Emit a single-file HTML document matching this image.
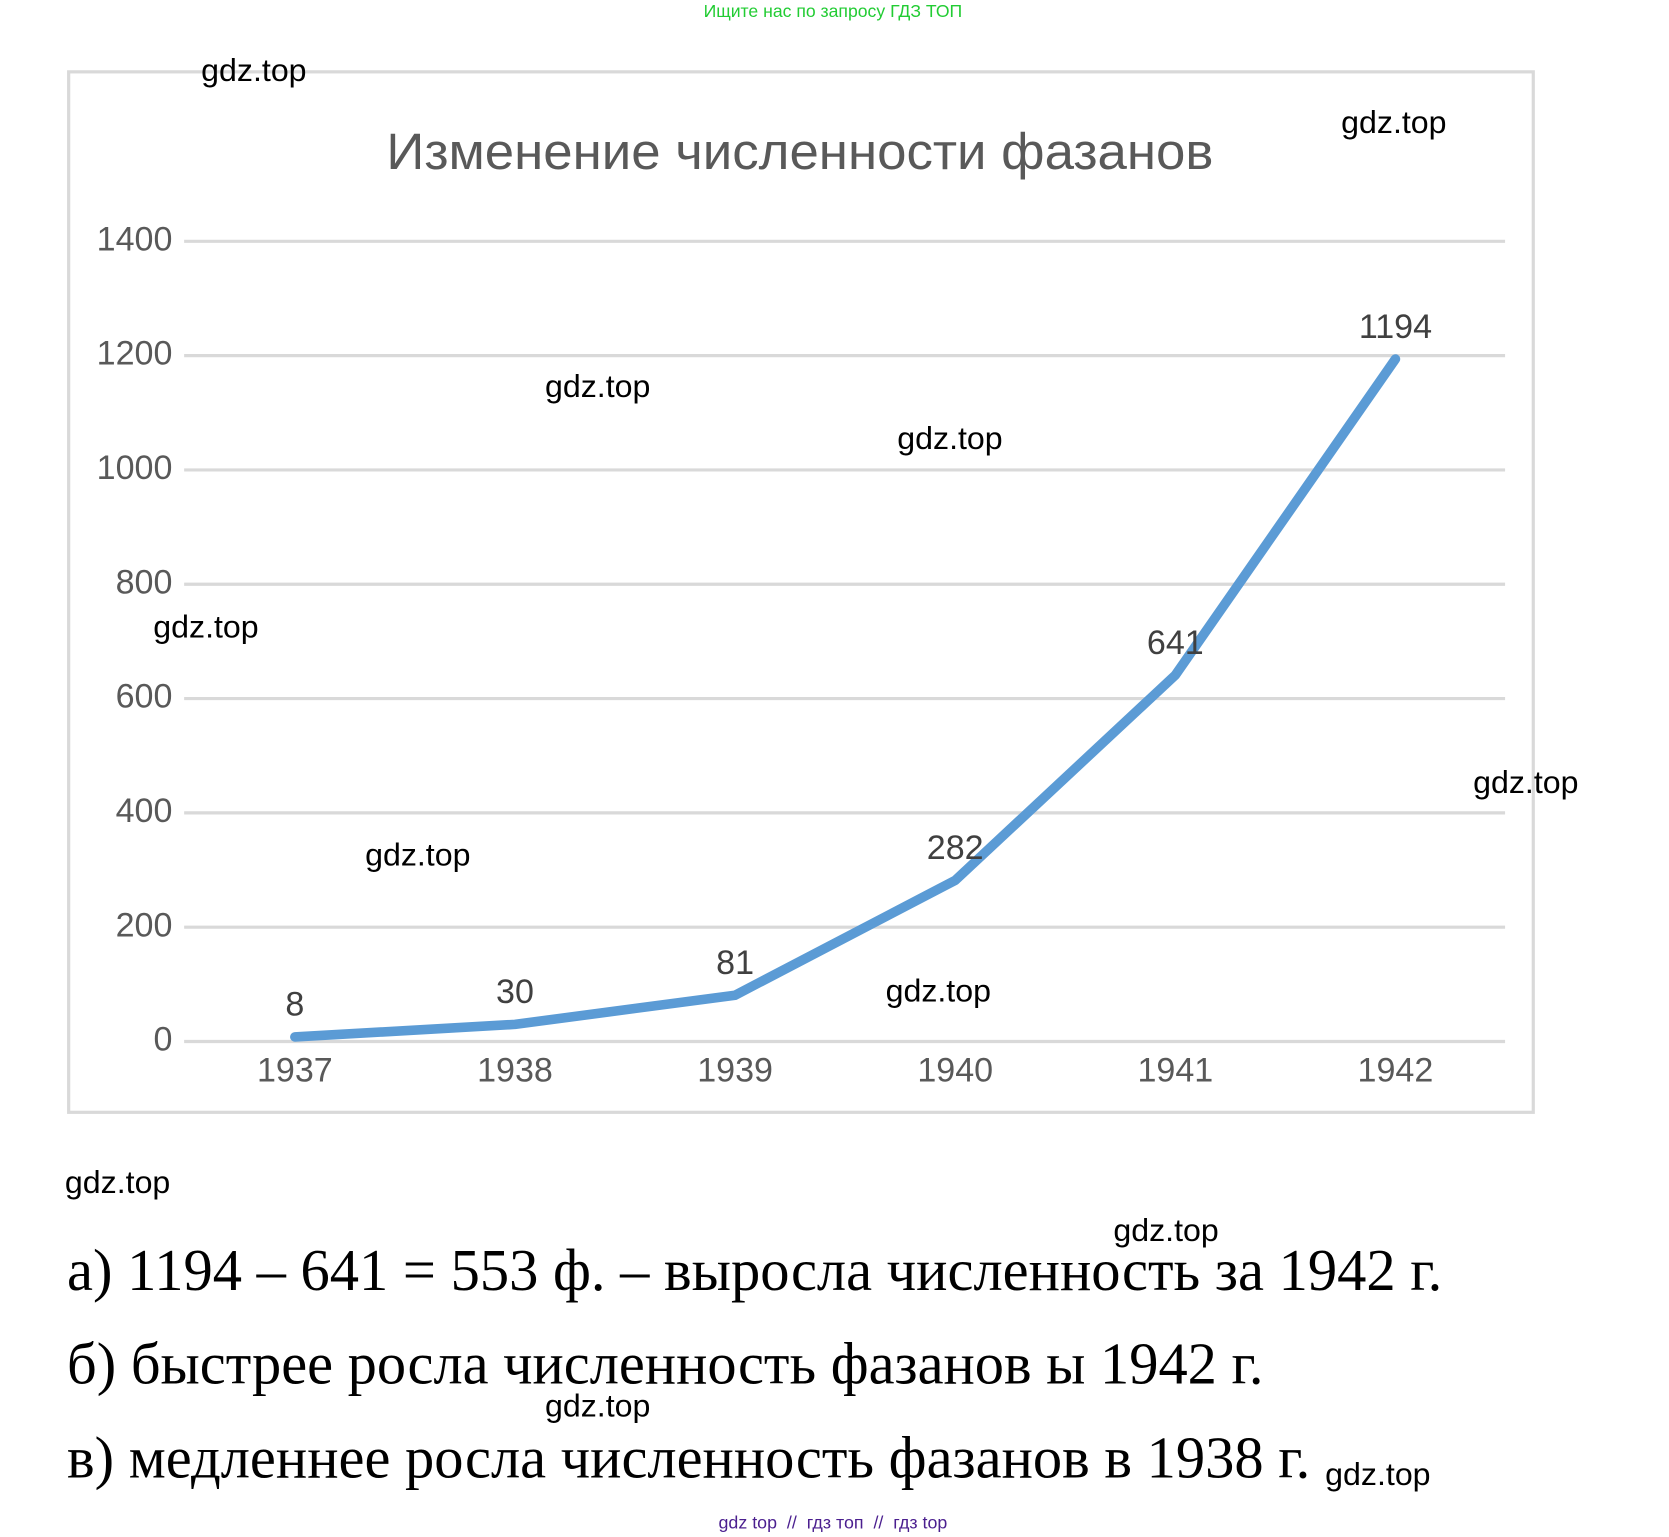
<!DOCTYPE html>
<html lang="ru">
<head>
<meta charset="utf-8">
<title>Изменение численности фазанов</title>
<style>
html,body{margin:0;padding:0;background:#fff;width:1669px;height:1537px;overflow:hidden}
svg{display:block;position:absolute;left:0;top:0}
text{font-family:"Liberation Sans","DejaVu Sans",sans-serif}
.serif{font-family:"Liberation Serif","DejaVu Serif",serif;fill:#000;font-size:56px}
.wm{font-size:30px;fill:#000}
.tick{font-size:32px;fill:#595959}
.val{font-size:32px;fill:#404040}
</style>
</head>
<body>
<svg id="page" width="1669" height="1537" viewBox="0 0 1568 1444" xmlns="http://www.w3.org/2000/svg">
  <text x="661" y="16" font-size="16.5" fill="#22cc33" textLength="243" lengthAdjust="spacingAndGlyphs">Ищите нас по запросу ГДЗ ТОП</text>

  <g id="chart">
    <rect x="64.5" y="67.5" width="1376" height="977.5" fill="#fff" stroke="#d9d9d9" stroke-width="3"/>
    <text x="363" y="159" font-size="48" fill="#595959" textLength="777" lengthAdjust="spacingAndGlyphs">Изменение численности фазанов</text>
    <g id="grid"></g>
    <g id="yaxis"></g>
    <g id="xaxis"></g>
    <path id="series" fill="none" stroke="#5b9bd5" stroke-width="9" stroke-linejoin="round" stroke-linecap="round"/>
    <g id="labels"></g>
  </g>

  <g>
    <text class="serif" x="63" y="1212" textLength="1292" lengthAdjust="spacingAndGlyphs">а) 1194 – 641 = 553 ф. – выросла численность за 1942 г.</text>
    <text class="serif" x="63" y="1300" textLength="1124" lengthAdjust="spacingAndGlyphs">б) быстрее росла численность фазанов ы 1942 г.</text>
    <text class="serif" x="63" y="1388" textLength="1168" lengthAdjust="spacingAndGlyphs">в) медленнее росла численность фазанов в 1938 г.</text>
  </g>

  <g>
    <text class="wm" x="189" y="76" textLength="99" lengthAdjust="spacingAndGlyphs">gdz.top</text>
    <text class="wm" x="1260" y="125" textLength="99" lengthAdjust="spacingAndGlyphs">gdz.top</text>
    <text class="wm" x="512" y="373" textLength="99" lengthAdjust="spacingAndGlyphs">gdz.top</text>
    <text class="wm" x="843" y="422" textLength="99" lengthAdjust="spacingAndGlyphs">gdz.top</text>
    <text class="wm" x="144" y="599" textLength="99" lengthAdjust="spacingAndGlyphs">gdz.top</text>
    <text class="wm" x="1384" y="745" textLength="99" lengthAdjust="spacingAndGlyphs">gdz.top</text>
    <text class="wm" x="343" y="813" textLength="99" lengthAdjust="spacingAndGlyphs">gdz.top</text>
    <text class="wm" x="832" y="941" textLength="99" lengthAdjust="spacingAndGlyphs">gdz.top</text>
    <text class="wm" x="61" y="1121" textLength="99" lengthAdjust="spacingAndGlyphs">gdz.top</text>
    <text class="wm" x="1046" y="1166" textLength="99" lengthAdjust="spacingAndGlyphs">gdz.top</text>
    <text class="wm" x="512" y="1331" textLength="99" lengthAdjust="spacingAndGlyphs">gdz.top</text>
    <text class="wm" x="1245" y="1395" textLength="99" lengthAdjust="spacingAndGlyphs">gdz.top</text>
  </g>

  <text x="675" y="1436" font-size="16.5" fill="#4b1f8f" textLength="215" lengthAdjust="spacingAndGlyphs">gdz top&#160;&#160;//&#160;&#160;гдз топ&#160;&#160;//&#160;&#160;гдз top</text>
</svg>
<script>
const years = ["1937", "1938", "1939", "1940", "1941", "1942"];
const counts = [8, 30, 81, 282, 641, 1194];
const yTicks = [0, 200, 400, 600, 800, 1000, 1200, 1400];

const NS = "http://www.w3.org/2000/svg";
function xAt(i) { return 277 + i * (1311 - 277) / 5; }
function yAt(v) { return 978.5 - v * (978.5 - 226.7) / 1400; }
function makeText(cls, x, y, anchor, str) {
  const t = document.createElementNS(NS, "text");
  t.setAttribute("class", cls);
  t.setAttribute("x", x);
  t.setAttribute("y", y);
  t.setAttribute("text-anchor", anchor);
  t.textContent = str;
  return t;
}
const grid = document.getElementById("grid");
const yaxis = document.getElementById("yaxis");
const xaxis = document.getElementById("xaxis");
const labels = document.getElementById("labels");

yTicks.forEach(function (v) {
  const line = document.createElementNS(NS, "line");
  line.setAttribute("x1", 173);
  line.setAttribute("x2", 1414);
  line.setAttribute("y1", yAt(v));
  line.setAttribute("y2", yAt(v));
  line.setAttribute("stroke", "#d9d9d9");
  line.setAttribute("stroke-width", 3);
  
  
  grid.appendChild(line);
  const t = makeText("tick", 162, yAt(v) + 8.5, "end", String(v));
  
  
  yaxis.appendChild(t);
});

years.forEach(function (y, i) {
  const t = makeText("tick", xAt(i), 1016, "middle", y);
  
  
  xaxis.appendChild(t);
});

document.getElementById("series").setAttribute("d",
  counts.map(function (v, i) { return (i ? "L" : "M") + xAt(i) + " " + yAt(v); }).join(" "));

counts.forEach(function (v, i) {
  const t = makeText("val", xAt(i), yAt(v) - 20, "middle", String(v));
  
  
  labels.appendChild(t);
});
</script>
</body>
</html>
